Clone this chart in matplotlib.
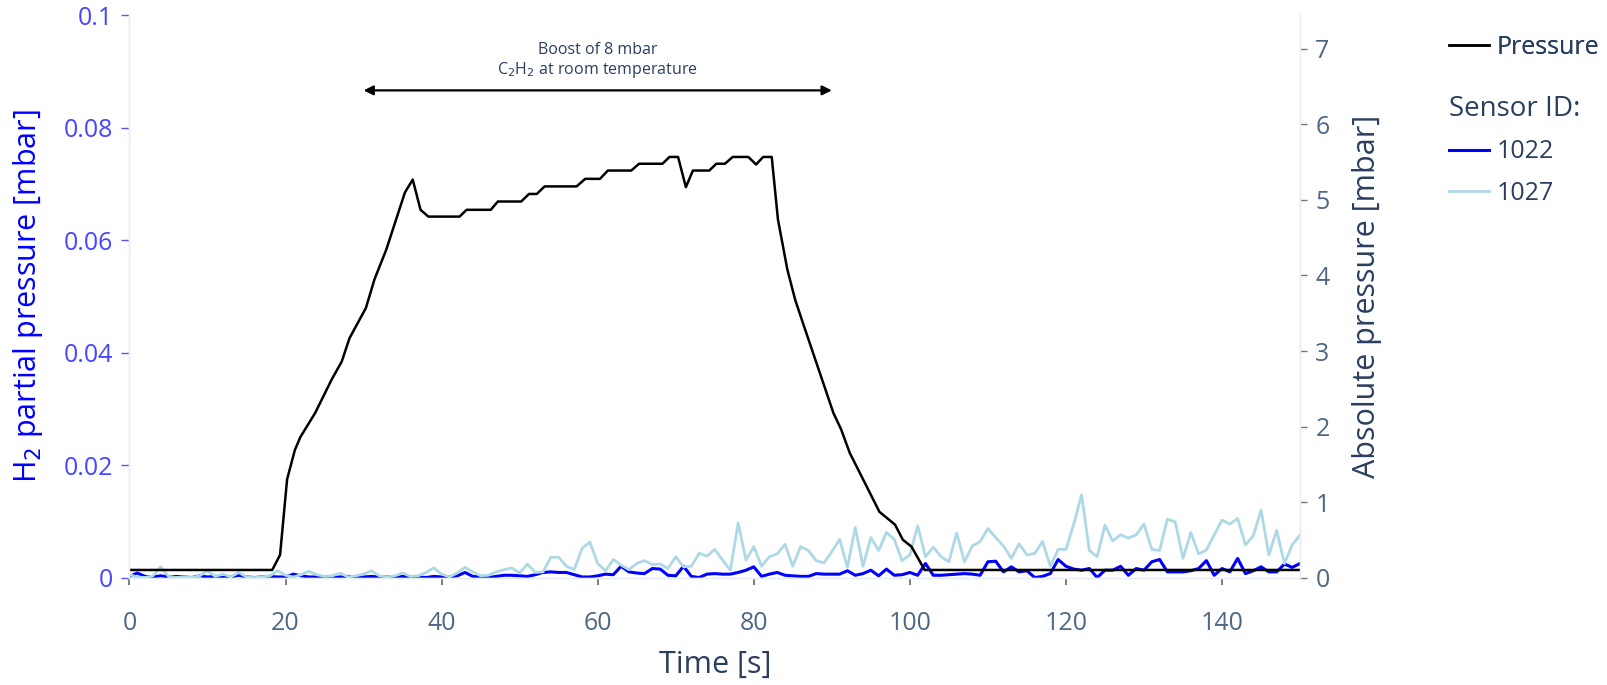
import matplotlib.pyplot as plt

plt.rcParams['font.family'] = ['Open Sans', 'DejaVu Sans']

# ========= data =========
time_s = list(range(151))

h2_1022 = [
    0.0002, 0.0008, 0.0002, 0.0001, 0.0003, 0.0001, 0.0002, 0.0001, 0.0000, 0.0003,
    0.0001, 0.0002, 0.0000, 0.0001, 0.0004, 0.0001, 0.0000, 0.0001, 0.0002, 0.0001,
    0.0001, 0.0006, 0.0003, 0.0001, 0.0001, 0.0001, 0.0000, 0.0001, 0.0002, 0.0001,
    0.0001, 0.0002, 0.0001, 0.0001, 0.0000, 0.0002, 0.0001, 0.0001, 0.0000, 0.0002,
    0.0001, 0.0001, 0.0003, 0.0009, 0.0002, 0.0001, 0.0000, 0.0002, 0.0004, 0.0004,
    0.0003, 0.0002, 0.0005, 0.0009, 0.0010, 0.0009, 0.0009, 0.0005, 0.0001, 0.0001,
    0.0003, 0.0006, 0.0005, 0.0020, 0.0010, 0.0008, 0.0007, 0.0016, 0.0015, 0.0004,
    0.0003, 0.0020, 0.0002, 0.0000, 0.0006, 0.0007, 0.0006, 0.0006, 0.0009, 0.0013,
    0.0019, 0.0002, 0.0006, 0.0009, 0.0004, 0.0003, 0.0002, 0.0002, 0.0007, 0.0006,
    0.0006, 0.0006, 0.0012, 0.0004, 0.0007, 0.0013, 0.0003, 0.0015, 0.0004, 0.0005,
    0.0009, 0.0004, 0.0025, 0.0004, 0.0004, 0.0005, 0.0006, 0.0007, 0.0006, 0.0004,
    0.0028, 0.0029, 0.0010, 0.0019, 0.0010, 0.0012, 0.0000, 0.0002, 0.0007, 0.0032,
    0.0020, 0.0015, 0.0013, 0.0016, 0.0000, 0.0013, 0.0013, 0.0020, 0.0004, 0.0016,
    0.0013, 0.0028, 0.0032, 0.0010, 0.0010, 0.0010, 0.0012, 0.0016, 0.0030, 0.0004,
    0.0016, 0.0010, 0.0034, 0.0007, 0.0012, 0.0019, 0.0010, 0.0010, 0.0024, 0.0018,
    0.0025,
]

h2_1027 = [
    0.0005, 0.0001, 0.0000, 0.0003, 0.0019, 0.0002, 0.0000, 0.0001, 0.0000, 0.0003,
    0.0012, 0.0002, 0.0006, 0.0001, 0.0009, 0.0001, 0.0000, 0.0001, 0.0003, 0.0012,
    0.0004, 0.0001, 0.0005, 0.0011, 0.0005, 0.0002, 0.0003, 0.0008, 0.0001, 0.0003,
    0.0006, 0.0012, 0.0003, 0.0001, 0.0003, 0.0008, 0.0002, 0.0003, 0.0009, 0.0017,
    0.0006, 0.0001, 0.0008, 0.0018, 0.0010, 0.0003, 0.0004, 0.0010, 0.0014, 0.0017,
    0.0008, 0.0024, 0.0009, 0.0010, 0.0036, 0.0036, 0.0020, 0.0014, 0.0052, 0.0063,
    0.0025, 0.0012, 0.0032, 0.0022, 0.0014, 0.0025, 0.0030, 0.0023, 0.0024, 0.0016,
    0.0037, 0.0019, 0.0020, 0.0043, 0.0038, 0.0050, 0.0031, 0.0013, 0.0097, 0.0031,
    0.0055, 0.0020, 0.0037, 0.0042, 0.0059, 0.0020, 0.0055, 0.0048, 0.0030, 0.0026,
    0.0046, 0.0068, 0.0018, 0.0089, 0.0020, 0.0071, 0.0048, 0.0080, 0.0068, 0.0030,
    0.0040, 0.0092, 0.0037, 0.0054, 0.0037, 0.0028, 0.0079, 0.0028, 0.0056, 0.0064,
    0.0087, 0.0071, 0.0056, 0.0034, 0.0060, 0.0040, 0.0043, 0.0064, 0.0020, 0.0050,
    0.0050, 0.0095, 0.0147, 0.0048, 0.0037, 0.0093, 0.0065, 0.0076, 0.0070, 0.0076,
    0.0095, 0.0050, 0.0048, 0.0104, 0.0099, 0.0034, 0.0080, 0.0042, 0.0049, 0.0076,
    0.0102, 0.0095, 0.0105, 0.0058, 0.0074, 0.0120, 0.0040, 0.0084, 0.0025, 0.0058,
    0.0076,
]

pressure_t = [
    0, 18.3, 19.3, 20.2, 21.2, 21.9, 23.8, 25.9, 27.2, 28.2, 30.3, 31.4, 32.9,
    35.3, 36.3, 37.3, 38.3, 42.3, 43.2, 46.3, 47.2, 50.2, 51.2, 52.2, 53.2,
    57.3, 58.4, 60.3, 61.3, 64.3, 65.3, 68.3, 69.2, 70.3, 71.3, 72.2, 74.3,
    75.2, 76.3, 77.3, 79.3, 80.3, 81.2, 82.3, 83.1, 84.3, 85.3, 86.3, 90.2,
    91.2, 92.3, 96.1, 98.1, 99.1, 100.2, 101.9, 150,
]
pressure_mbar = [
    0.1, 0.1, 0.3, 1.3, 1.69, 1.86, 2.18, 2.62, 2.86, 3.17, 3.57, 3.95, 4.34,
    5.10, 5.27, 4.87, 4.78, 4.78, 4.87, 4.87, 4.98, 4.98, 5.08, 5.08, 5.18,
    5.18, 5.28, 5.28, 5.39, 5.39, 5.48, 5.48, 5.57, 5.57, 5.17, 5.39, 5.39,
    5.48, 5.48, 5.57, 5.57, 5.47, 5.57, 5.57, 4.74, 4.08, 3.68, 3.37, 2.18,
    1.96, 1.65, 0.87, 0.70, 0.50, 0.41, 0.10, 0.1,
]

left_ticks = [0, 0.02, 0.04, 0.06, 0.08, 0.1]
left_labels = ['0', '0.02', '0.04', '0.06', '0.08', '0.1']

dark = '#2a3f5f'
grey = '#506784'
faint = '#e6ecf5'

fig = plt.figure(figsize=(16.08, 6.85), dpi=100)
ax = fig.add_axes([0.0805, 0.1569, 0.728, 0.8212])
ax2 = ax.twinx()

l1022, = ax.plot(time_s, h2_1022, color='blue', lw=2.2, label='1022')
l1027, = ax.plot(time_s, h2_1027, color='lightblue', lw=2.0, label='1027')
lp, = ax2.plot(pressure_t, pressure_mbar, color='black', lw=1.8, label='Pressure')

ax.set_xlim(0, 150)
ax.set_ylim(0, 0.1)
ax2.set_ylim(0, 7.45)

ax.set_xticks(range(0, 150, 20))
ax.set_yticks(left_ticks)
ax.set_yticklabels(left_labels)
ax2.set_yticks(range(0, 8))

for a in (ax, ax2):
    a.spines['top'].set_visible(False)
    for s in ('left', 'right', 'bottom'):
        a.spines[s].set_color(faint)
        a.spines[s].set_linewidth(1)

ax.tick_params(axis='x', colors='#666666', labelcolor=grey, labelsize=18,
               length=5, width=1.2, pad=19)
ax.tick_params(axis='y', colors='#5555ff', labelcolor='#4646ff', labelsize=18,
               length=6, width=1, pad=6)
ax2.tick_params(axis='y', colors='#777777', labelcolor=grey, labelsize=18,
                length=5, width=1, pad=6)

ax.set_xlabel('Time [s]', fontsize=22, color=dark)
ax.xaxis.set_label_coords(0.5, -0.128)
ax.set_ylabel('H$_2$ partial pressure [mbar]', fontsize=22, color='blue')
ax.yaxis.set_label_coords(-0.0725, 0.5)
ax2.set_ylabel('Absolute pressure [mbar]', fontsize=22, color=dark)
ax2.yaxis.set_label_coords(1.0444, 0.5)

# boost annotation
ax.annotate('', xy=(30, 0.0866), xytext=(90, 0.0866),
            arrowprops=dict(arrowstyle='<|-|>', color='black', lw=1.6,
                            mutation_scale=14, shrinkA=0, shrinkB=0))
ax.text(60, 0.0937, 'Boost of 8 mbar', ha='center', va='center',
        fontsize=11.5, color=dark)
ax.text(60, 0.0902, 'C$_2$H$_2$ at room temperature', ha='center', va='center',
        fontsize=11.5, color=dark)

leg1 = fig.legend(handles=[lp], labels=['Pressure'], loc='upper left',
                  bbox_to_anchor=(1449 / 1608, 1 - 35 / 685), frameon=False,
                  fontsize=18, labelcolor=dark, handlelength=1.6,
                  handletextpad=0.3, borderpad=0, borderaxespad=0)
leg2 = fig.legend(handles=[l1022, l1027], labels=['1022', '1027'],
                  loc='upper left', bbox_to_anchor=(1449 / 1608, 1 - 95 / 685),
                  frameon=False, fontsize=18, labelcolor=dark,
                  title='Sensor ID:', title_fontsize=20, alignment='left',
                  handlelength=1.6, handletextpad=0.3, labelspacing=0.65,
                  borderpad=0, borderaxespad=0)
leg2.get_title().set_color(dark)
fig.add_artist(leg1)

fig.savefig('out.png', dpi=100)
